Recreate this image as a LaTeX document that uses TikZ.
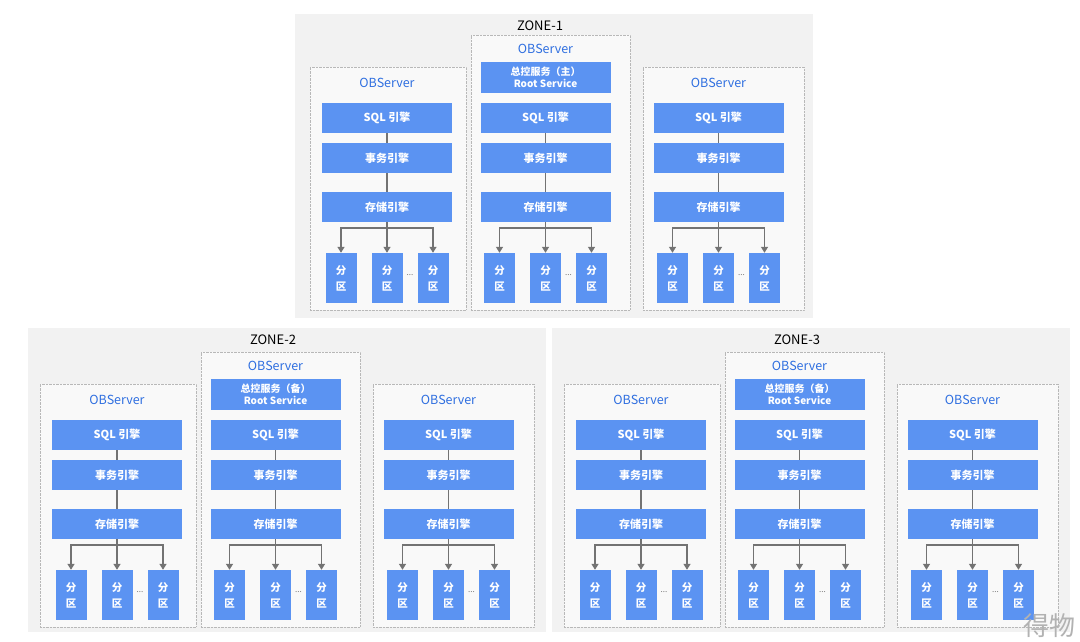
\documentclass[tikz,border=0pt]{standalone}
\usepackage{fontspec}
\setmainfont{Noto Sans CJK SC}
\usetikzlibrary{arrows.meta}
\definecolor{obblue}{HTML}{5B93F2}
\definecolor{obtext}{HTML}{2F6FE0}
\definecolor{zonegray}{HTML}{F2F2F2}
\definecolor{srvgray}{HTML}{F9F9F9}
\definecolor{linegray}{HTML}{737373}
\tikzset{
  zonebox/.style={fill=zonegray, draw=none, inner sep=0pt, outer sep=0pt},
  srvbox/.style={fill=srvgray, draw=black!28, densely dotted, inner sep=0pt, outer sep=0pt},
  engine/.style={fill=obblue, text=white, font=\bfseries\fontsize{11}{12}\selectfont,
    minimum width=130pt, minimum height=30pt, inner sep=0pt},
  part/.style={fill=obblue, text=white, font=\bfseries\fontsize{10.5}{11}\selectfont,
    minimum width=31pt, minimum height=50pt, inner sep=0pt, align=center},
  link/.style={draw=linegray, line width=1.3pt},
  arr/.style={link, -{Triangle[length=6pt,width=7pt]}},
}

\begin{document}
\begin{tikzpicture}[x=1pt, y=-1pt]
  \useasboundingbox[fill=white] (0,0) rectangle (1080,642);

  \foreach \z/\zx/\zy/\ox/\oy/\rs in {1/295/14/0/0/主, 2/28/328/-3/3/备, 3/552/328/-3/3/备} {
    \node[zonebox, anchor=north west, minimum width=518pt, minimum height=304pt] (zone\z) at (\zx,\zy) {};
    \node[font=\fontsize{13}{15}\selectfont] (zone\z-label) at ({\zx+245},{\zy+12}) {ZONE-\z};

    % three observers per zone
    \foreach \s/\sx/\sw/\st/\ly/\dx in {l/15/156/53/69/-1, m/176/159/21/35/-5, r/348/161/53/69/-5} {
      \pgfmathsetmacro\cx{\zx+\ox+\sx+\sw/2+\dx}
      \pgfmathsetmacro\cy{\zy+\oy}
      \pgfmathsetmacro\sh{296-\st}
      \node[srvbox, anchor=north west, minimum width=\sw pt, minimum height=\sh pt] (z\z\s) at ({\zx+\ox+\sx},{\cy+\st}) {};
      \node[text=obtext, font=\fontsize{12.5}{14}\selectfont] (z\z\s-name) at (\cx,{\cy+\ly}) {OBServer};

      \node[engine] (z\z\s-sql) at (\cx,{\cy+104}) {SQL 引擎};
      \node[engine] (z\z\s-tx) at (\cx,{\cy+144}) {事务引擎};
      \node[engine] (z\z\s-st) at (\cx,{\cy+193}) {存储引擎};
      \coordinate (z\z\s-bus) at (\cx,{\cy+214});

      \node[part] (z\z\s-p1) at ({\cx-46},{\cy+264}) {分\\[5pt]区};
      \node[part] (z\z\s-p2) at (\cx,{\cy+264}) {分\\[5pt]区};
      \node[part] (z\z\s-p3) at ({\cx+46},{\cy+264}) {分\\[5pt]区};
      \node[text=linegray, font=\fontsize{8}{8}\selectfont] (z\z\s-dots) at ({\cx+23},{\cy+261}) {...};

      \draw[link] (z\z\s-sql) -- (z\z\s-tx);
      \draw[link] (z\z\s-tx) -- (z\z\s-st);
      \draw[link] (z\z\s-st) -- (z\z\s-bus);
      \draw[arr] (z\z\s-bus) -| (z\z\s-p1);
      \draw[arr] (z\z\s-bus) -- (z\z\s-p2);
      \draw[arr] (z\z\s-bus) -| (z\z\s-p3);
    }

    \node[engine, minimum height=31pt, align=center, font=\bfseries\fontsize{10}{11.5}\selectfont]
      (z\z-root) at ({\zx+\ox+250.5},{\zy+\oy+63.5}) {总控服务（\rs）\\Root Service};
  }

  \node[text=black!30, font=\fontsize{26}{28}\selectfont, inner sep=0pt] (mark) at (1049,626) {得物};
\end{tikzpicture}
\end{document}
